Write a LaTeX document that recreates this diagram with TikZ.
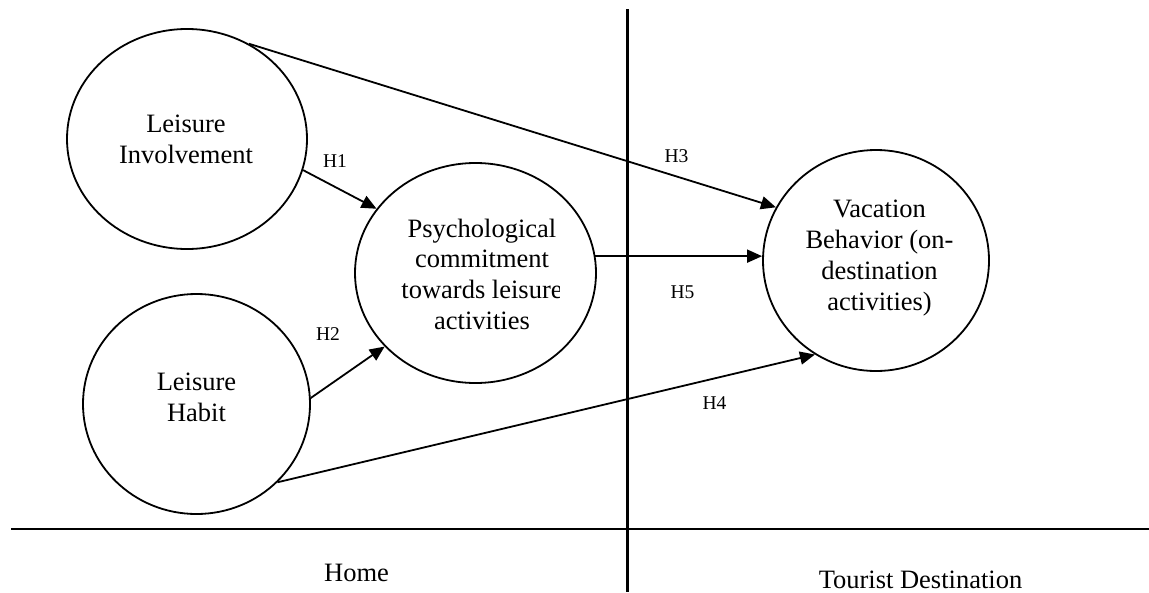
\documentclass[tikz,border=0pt]{standalone}
\usepackage{fontspec}
\setmainfont{Liberation Serif}
\usetikzlibrary{shapes.geometric,arrows.meta}
\begin{document}
\begin{tikzpicture}[x=1pt,y=-1pt,
  construct/.style={ellipse,draw,line width=1.8pt,inner sep=0pt},
  maintext/.style={align=center,font=\fontsize{26.5}{30.7}\selectfont,inner sep=0pt},
  hyp/.style={font=\fontsize{19.5}{22}\selectfont,inner sep=0pt,anchor=base},
  zonetext/.style={font=\fontsize{26.5}{30}\selectfont,inner sep=0pt,anchor=base},
  conn/.style={line width=1.8pt,-{Triangle[length=15pt,width=13pt]}},
  divider/.style={line width=#1}
]
\useasboundingbox (0,0) rectangle (1149,592);

% dividers
\coordinate (vtop) at (627,9);
\coordinate (vbot) at (627,592);
\coordinate (hl) at (11,529);
\coordinate (hr) at (1149,529);
\draw[divider=3pt] (vtop) -- (vbot);
\draw[divider=2.3pt] (hl) -- (hr);

% constructs
\node[construct, minimum width=240pt, minimum height=220pt] (inv) at (187,139) {};
\node[construct, minimum width=227pt, minimum height=220pt] (hab) at (196.5,404) {};
\node[construct, minimum width=241pt, minimum height=220pt] (psy) at (475.5,273) {};
\node[construct, minimum width=226pt, minimum height=221pt] (vac) at (876,260.5) {};

% texts
\node[maintext] (invt) at (186,139.6) {Leisure\\Involvement};
\node[maintext] (habt) at (196.5,397.5) {Leisure\\Habit};
\begin{scope}
\clip (390,200) rectangle (559,345);
\node[maintext] (psyt) at (482,274) {Psychological\\commitment\\towards leisure\\activities};
\end{scope}
\node[maintext] (vact) at (879.5,258) {Vacation\\Behavior (on-\\destination\\activities)};

% connectors
\draw[conn] (inv.-15.2) -- (psy.147.4);
\draw[conn] (inv.57.6) -- (vac.152.3);
\draw[conn] (hab.3) -- (psy.-141.6);
\draw[conn] (hab.-44) -- (vac.237.2);
\draw[conn] (psy.8.3) -- (psy.8.3 -| vac.west);

% hypothesis labels
\node[hyp] (h1) at (335,167) {H1};
\node[hyp] (h2) at (328,340) {H2};
\node[hyp] (h3) at (676.5,162) {H3};
\node[hyp] (h4) at (714.5,409) {H4};
\node[hyp] (h5) at (682.5,298) {H5};

% zone labels
\node[zonetext] (home) at (356.5,581) {Home};
\node[zonetext] (dest) at (920.5,588) {Tourist Destination};
\end{tikzpicture}
\end{document}
